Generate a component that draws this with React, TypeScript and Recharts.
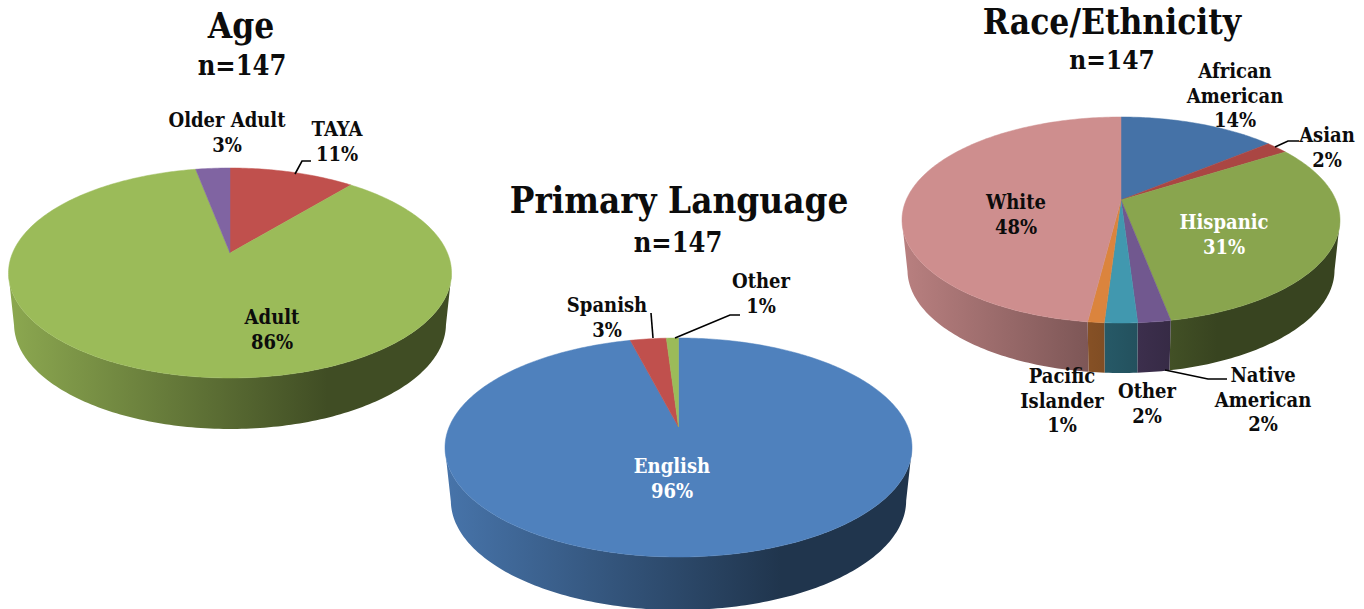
import { PieChart, Pie, Cell } from 'recharts'

const ageNames = ['TAYA', 'Adult', 'Older Adult']
const ageValues = [11, 86, 3]
const ageColors = ['#c0504d', '#9bbb59', '#8064a2']

const languageNames = ['English', 'Spanish', 'Other']
const languageValues = [96, 3, 1]
const languageColors = ['#4f81bd', '#c0504d', '#9bbb59']

const raceNames = ['African American', 'Asian', 'Hispanic', 'Native American', 'Other', 'Pacific Islander', 'White']
const raceValues = [14, 2, 31, 2, 2, 1, 48]
const raceColors = ['#4572a7', '#aa4643', '#89a54e', '#71588f', '#4198af', '#db843d', '#ce8e8e']

const FONT = '"DejaVu Serif", serif'
const INK = '#0c0c0c'

interface Disc {
  cx: number
  cy: number
  halfWidth: number
  back: number // apex to far rim
  front: number // apex to near rim
  depth: number
}

interface LabelSpot {
  x: number
  y: number
  wrap?: boolean
  color?: string
  leader?: string
}

const toRows = (names: string[], values: number[]) =>
  names.map((name, i) => ({ name, value: values[i] }))

// Projects a point on the pie rim to the screen, with the far edge foreshortened
function rimPoint(d: Disc, angle: number) {
  const theta = ((90 - angle) * Math.PI) / 180
  const k = (d.front - d.back) / (d.front + d.back)
  const a = d.front * (1 - k)
  const c = d.halfWidth * Math.sqrt(1 - k * k)
  const u = Math.sin(theta)
  const v = -Math.cos(theta)
  const w = 1 - k * v
  return { x: d.cx + (c * u) / w, y: d.cy + (a * v) / w }
}

function arcPoints(d: Disc, start: number, end: number) {
  const steps = Math.max(2, Math.ceil(Math.abs(start - end)))
  const pts = []
  for (let i = 0; i <= steps; i++) {
    pts.push(rimPoint(d, start + ((end - start) * i) / steps))
  }
  return pts
}

const shade = (hex: string, f: number) => {
  const n = parseInt(hex.slice(1), 16)
  const ch = (s: number) => Math.round(((n >> s) & 255) * f)
  return `rgb(${ch(16)},${ch(8)},${ch(0)})`
}

const pathOf = (pts: { x: number; y: number }[]) =>
  pts.map((p, i) => `${i ? 'L' : 'M'}${p.x.toFixed(2)} ${p.y.toFixed(2)}`).join(' ') + ' Z'

const topFace = (d: Disc) => (props: any) => {
  const pts = [{ x: d.cx, y: d.cy }, ...arcPoints(d, props.startAngle, props.endAngle)]
  const fill = props.fill
  return <path d={pathOf(pts)} fill={fill} stroke={fill} strokeWidth={0.5} />
}

const sideWall = (d: Disc, tag: string) => (props: any) => {
  const midY = d.cy + (d.front - d.back) / 2
  const rim = arcPoints(d, props.startAngle, props.endAngle).filter((p) => p.y >= midY)
  if (rim.length < 2) return <g />
  const lower = rim
    .map((p) => ({ x: d.cx + (p.x - d.cx) * 0.975, y: p.y + d.depth }))
    .reverse()
  const id = `wall-${tag}-${props.index}`
  const left = d.cx - d.halfWidth
  const right = d.cx + d.halfWidth
  return (
    <g>
      <defs>
        <linearGradient id={id} gradientUnits="userSpaceOnUse" x1={left} x2={right} y1={0} y2={0}>
          <stop offset="0" stopColor={shade(props.fill, 0.9)} />
          <stop offset="0.72" stopColor={shade(props.fill, 0.41)} />
          <stop offset="1" stopColor={shade(props.fill, 0.41)} />
        </linearGradient>
      </defs>
      <path d={pathOf([...rim, ...lower])} fill={`url(#${id})`} />
    </g>
  )
}

const sliceLabel = (spots: Record<string, LabelSpot>) => (props: any) => {
  const spot = spots[props.name]
  const lines: string[] = spot.wrap ? props.name.split(' ') : [props.name]
  lines.push(`${props.value}%`)
  return (
    <g>
      {spot.leader && <path d={spot.leader} fill="none" stroke="#000" strokeWidth={1.6} />}
      <text
        x={spot.x}
        fontFamily={FONT}
        fontWeight="bold"
        fontSize={20}
        fontStretch="condensed"
        textAnchor="middle"
        fill={spot.color ?? INK}
      >
        {lines.map((line, i) => (
          <tspan key={i} x={spot.x} y={spot.y + i * 24.6}>
            {line}
          </tspan>
        ))}
      </text>
    </g>
  )
}

const ageDisc: Disc = { cx: 230, cy: 253, halfWidth: 221.5, back: 85, front: 125, depth: 51 }
const languageDisc: Disc = { cx: 678.5, cy: 427, halfWidth: 233.5, back: 89, front: 130, depth: 53 }
const raceDisc: Disc = { cx: 1121, cy: 200, halfWidth: 219, back: 83, front: 123, depth: 50 }

const ageSpots: Record<string, LabelSpot> = {
  TAYA: { x: 337, y: 136, leader: 'M295 174 L302 161 L311 161' },
  Adult: { x: 272, y: 324 },
  'Older Adult': { x: 227, y: 127 },
}

const languageSpots: Record<string, LabelSpot> = {
  English: { x: 672, y: 473, color: '#fff' },
  Spanish: { x: 607, y: 312, leader: 'M653 338 L651 313' },
  Other: { x: 761, y: 288, leader: 'M675 338 L730 315 L740 315' },
}

const raceSpots: Record<string, LabelSpot> = {
  'African American': { x: 1235, y: 78, wrap: true },
  Asian: { x: 1327, y: 142, leader: 'M1275 147 L1288 141 L1299 141' },
  Hispanic: { x: 1224, y: 229, color: '#fff' },
  'Native American': { x: 1263, y: 382, wrap: true, leader: 'M1165 370 L1208 379 L1227 379' },
  Other: { x: 1147, y: 398 },
  'Pacific Islander': { x: 1062, y: 383, wrap: true },
  White: { x: 1016, y: 209 },
}

const headings = [
  { text: 'Age', x: 241, y: 38, size: 35 },
  { text: 'n=147', x: 242, y: 75, size: 27 },
  { text: 'Primary Language', x: 679, y: 213, size: 36.5 },
  { text: 'n=147', x: 678, y: 252, size: 27 },
  { text: 'Race/Ethnicity', x: 1112, y: 34, size: 35 },
  { text: 'n=147', x: 1112, y: 69, size: 26 },
]

const charts = [
  { tag: 'age', disc: ageDisc, rows: toRows(ageNames, ageValues), colors: ageColors, spots: ageSpots },
  { tag: 'language', disc: languageDisc, rows: toRows(languageNames, languageValues), colors: languageColors, spots: languageSpots },
  { tag: 'race', disc: raceDisc, rows: toRows(raceNames, raceValues), colors: raceColors, spots: raceSpots },
]

export default function App() {
  return (
    <div style={{ position: 'absolute', left: 0, top: 0, width: 1364, height: 609, background: '#fff', overflow: 'hidden' }}>
      <PieChart width={1364} height={609} margin={{ top: 0, right: 0, bottom: 0, left: 0 }}>
        {charts.map((c) => (
          <Pie
            key={`${c.tag}-wall`}
            data={c.rows}
            dataKey="value"
            nameKey="name"
            cx={c.disc.cx}
            cy={c.disc.cy}
            outerRadius={c.disc.halfWidth}
            startAngle={90}
            endAngle={-270}
            stroke="none"
            isAnimationActive={false}
            shape={sideWall(c.disc, c.tag)}
          >
            {c.rows.map((r, i) => (
              <Cell key={r.name} fill={c.colors[i]} />
            ))}
          </Pie>
        ))}
        {charts.map((c) => (
          <Pie
            key={`${c.tag}-top`}
            data={c.rows}
            dataKey="value"
            nameKey="name"
            cx={c.disc.cx}
            cy={c.disc.cy}
            outerRadius={c.disc.halfWidth}
            startAngle={90}
            endAngle={-270}
            stroke="none"
            isAnimationActive={false}
            shape={topFace(c.disc)}
            label={sliceLabel(c.spots)}
            labelLine={false}
          >
            {c.rows.map((r, i) => (
              <Cell key={r.name} fill={c.colors[i]} />
            ))}
          </Pie>
        ))}
        {headings.map((h, i) => (
          <text
            key={i}
            x={h.x}
            y={h.y}
            fontFamily={FONT}
            fontWeight="bold"
            fontSize={h.size}
            fontStretch="condensed"
            textAnchor="middle"
            fill={INK}
          >
            {h.text}
          </text>
        ))}
      </PieChart>
    </div>
  )
}
